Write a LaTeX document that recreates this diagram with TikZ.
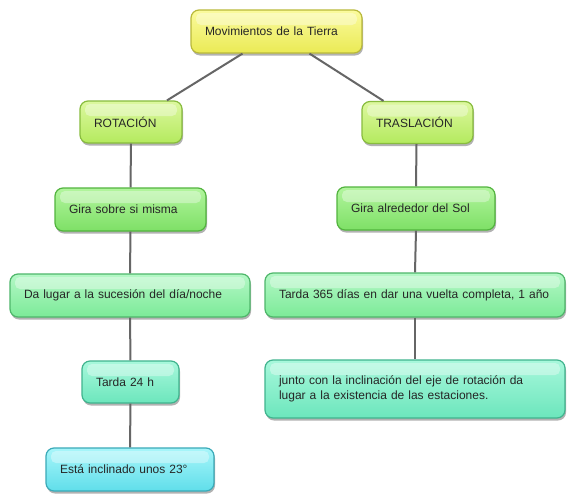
\documentclass[tikz,border=0pt]{standalone}
\usepackage{fontspec}
\setmainfont{Liberation Sans}
\usetikzlibrary{shadows}
\definecolor{MTText}{HTML}{262626}
\definecolor{MTLine}{HTML}{666666}
\definecolor{MTYellowTop}{HTML}{FBFB9E}
\definecolor{MTYellow}{HTML}{EAEA55}
\definecolor{MTYellowLine}{HTML}{B9B93A}
\definecolor{MTLimeTop}{HTML}{DDF8A0}
\definecolor{MTLime}{HTML}{B4EA5E}
\definecolor{MTLimeLine}{HTML}{88BC3E}
\definecolor{MTGreenTop}{HTML}{B2F59E}
\definecolor{MTGreen}{HTML}{7EE066}
\definecolor{MTGreenLine}{HTML}{52B43E}
\definecolor{MTMintTop}{HTML}{B4F8C6}
\definecolor{MTMint}{HTML}{7CEA98}
\definecolor{MTMintLine}{HTML}{4EB66A}
\definecolor{MTAquaTop}{HTML}{A8F8DC}
\definecolor{MTAqua}{HTML}{6CE6BC}
\definecolor{MTAquaLine}{HTML}{40B48E}
\definecolor{MTCyanTop}{HTML}{A8F6FA}
\definecolor{MTCyan}{HTML}{60DEEA}
\definecolor{MTCyanLine}{HTML}{3AAAB8}
\tikzset{
  mtbox/.style={rounded corners=8pt,line width=1.2pt,inner xsep=14pt,inner ysep=0pt,
    minimum height=43pt,align=left,text=MTText,font=\fontsize{12}{15}\selectfont,
    drop shadow={shadow xshift=1pt,shadow yshift=-2.5pt,opacity=.3,fill=black},
    path picture={\fill[white,opacity=.35,rounded corners=5pt]
      ([xshift=5pt,yshift=-3pt]path picture bounding box.north west) rectangle
      ([xshift=-5pt,yshift=-15pt]path picture bounding box.north east);}},
  mtyellow/.style={top color=MTYellowTop,bottom color=MTYellow,draw=MTYellowLine},
  mtlime/.style={top color=MTLimeTop,bottom color=MTLime,draw=MTLimeLine},
  mtgreen/.style={top color=MTGreenTop,bottom color=MTGreen,draw=MTGreenLine},
  mtmint/.style={top color=MTMintTop,bottom color=MTMint,draw=MTMintLine},
  mtaqua/.style={top color=MTAquaTop,bottom color=MTAqua,draw=MTAquaLine},
  mtcyan/.style={top color=MTCyanTop,bottom color=MTCyan,draw=MTCyanLine},
  mtlink/.style={draw=MTLine,line width=2pt}
}
\begin{document}
\begin{tikzpicture}[x=1pt,y=-1pt]
\path[use as bounding box] (0,0) rectangle (576,501);
\fill[white] (0,0) rectangle (576,501);
\node[mtbox,mtyellow,text width=143pt] (tierra) at (276.5,31.5) {Movimientos de la Tierra};
\node[mtbox,mtlime,text width=74pt,minimum height=42pt] (rotacion) at (131,122) {ROTACIÓN};
\node[mtbox,mtlime,text width=83pt,minimum height=42pt] (traslacion) at (417.5,122.5) {TRASLACIÓN};
\node[mtbox,mtgreen,text width=123pt] (sobre) at (130.5,209.5) {Gira sobre si misma};
\node[mtbox,mtgreen,text width=130pt] (alrededor) at (416,208.5) {Gira alrededor del Sol};
\node[mtbox,mtmint,text width=212pt] (sucesion) at (130,295.5) {Da lugar a la sucesión del día/noche};
\node[mtbox,mtmint,text width=272pt,minimum height=44pt] (anio) at (415,295) {Tarda 365 días en dar una vuelta completa, 1 año};
\node[mtbox,mtaqua,text width=69pt,minimum height=42pt] (horas) at (130.5,382) {Tarda 24 h};
\node[mtbox,mtaqua,text width=272pt,minimum height=58pt] (estaciones) at (415,389) {junto con la inclinación del eje de rotación da\\lugar a la existencia de las estaciones.};
\node[mtbox,mtcyan,text width=140pt] (inclinado) at (130,469.5) {Está inclinado unos 23°};
\draw[mtlink] ([xshift=-34pt]tierra.south) -- ([xshift=36pt]rotacion.north);
\draw[mtlink] ([xshift=33pt]tierra.south) -- ([xshift=-34pt]traslacion.north);
\draw[mtlink] (rotacion.south) -- (sobre.north);
\draw[mtlink] (sobre.south) -- (sucesion.north);
\draw[mtlink] (sucesion.south) -- (horas.north);
\draw[mtlink] (horas.south) -- (inclinado.north);
\draw[mtlink] ([xshift=-1pt]traslacion.south) -- (alrededor.north);
\draw[mtlink] (alrededor.south) -- (anio.north);
\draw[mtlink] (anio.south) -- (estaciones.north);
\end{tikzpicture}
\end{document}
